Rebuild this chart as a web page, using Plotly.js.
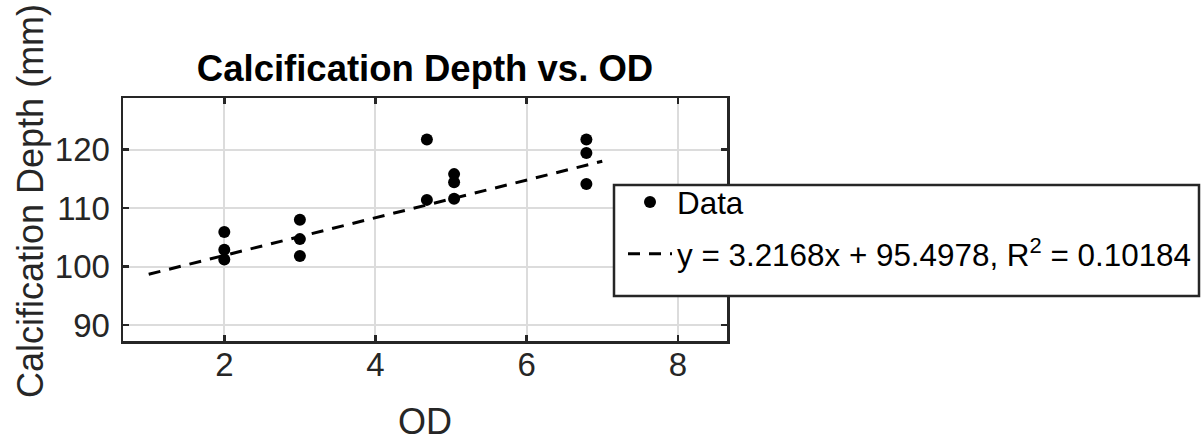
<!DOCTYPE html>
<html>
<head>
<meta charset="utf-8">
<script src="https://cdn.plot.ly/plotly-3.0.1.min.js"></script>
<style>html,body{margin:0;padding:0;background:#fff;}#chart{width:1203px;height:442px;}</style>
</head>
<body>
<div id="chart"></div>
<script>
// Data
const odValues    = [2, 2, 2, 3, 3, 3, 4.68, 4.68, 5.04, 5.04, 5.04, 6.79, 6.79, 6.79];
const depthValues = [105.9, 102.9, 101.2, 108.0, 104.7, 101.8, 121.7, 111.4, 115.8, 114.4, 111.6, 121.7, 119.4, 114.1];
const fitX = [1, 7];
const fitY = [98.7, 118.0];
const fitLabel = 'y = 3.2168x + 95.4978, R<sup>2</sup> = 0.10184';
const xTicks = [2, 4, 6, 8];
const yTicks = [90, 100, 110, 120];

const FONT = 'Liberation Sans, Arial, Helvetica, sans-serif';
const AX = '#262626';

// plot area in pixels
const L = 123, R = 476, T = 98, B = 101, W = 1203, H = 442;
const PW = W - L - R, PH = H - T - B;
const px2x = p => (p - L) / PW;
const px2y = p => (H - B - p) / PH;

const traces = [
  {
    x: odValues, y: depthValues, type: 'scatter', mode: 'markers', name: 'Data',
    legendgroup: 'a',
    marker: {color: '#000', size: 12}
  },
  {
    x: fitX, y: fitY, type: 'scatter', mode: 'lines', name: fitLabel,
    legendgroup: 'b',
    line: {color: '#000', width: 3, dash: '12px,9px'}
  }
];

const axisCommon = {
  showline: true, mirror: 'ticks', linecolor: AX, linewidth: 2.5,
  ticks: 'inside', ticklen: 6, tickwidth: 2.5, tickcolor: AX,
  showgrid: true, gridcolor: '#dcdcdc', gridwidth: 2,
  zeroline: false,
  tickfont: {family: FONT, size: 33, color: AX},
  automargin: false
};

const layout = {
  width: W, height: H,
  margin: {l: L, r: R, t: T, b: B, autoexpand: false},
  paper_bgcolor: '#fff', plot_bgcolor: '#fff',
  showlegend: true,
  title: {
    text: '<b>Calcification Depth vs. OD</b>',
    font: {family: FONT, size: 36.5, color: '#000'},
    x: 0.5, xref: 'paper', xanchor: 'center',
    y: 1 - 68/442, yref: 'container', yanchor: 'middle'
  },
  xaxis: Object.assign({}, axisCommon, {
    range: [0.66, 8.65], tickvals: xTicks, ticktext: xTicks.map(String),
    ticklabelstandoff: -7,
    title: {text: 'OD', font: {family: FONT, size: 36, color: AX}, standoff: 34}
  }),
  yaxis: Object.assign({}, axisCommon, {
    range: [87.3, 128.8], tickvals: yTicks, ticktext: yTicks.map(String),
    ticklabelstandoff: 4,
    title: {text: ''}
  }),
  annotations: [{
    text: 'Calcification Depth (mm)', textangle: -90,
    xref: 'paper', yref: 'paper', x: px2x(30), y: px2y(201),
    xanchor: 'center', yanchor: 'middle', showarrow: false,
    font: {family: FONT, size: 36, color: AX}
  }],
  shapes: [{
    type: 'rect', xref: 'paper', yref: 'paper', layer: 'above',
    x0: px2x(614), x1: px2x(1199), y0: px2y(296), y1: px2y(185),
    fillcolor: '#fff', line: {color: AX, width: 2.5}
  }],
  legend: {
    x: px2x(623), xanchor: 'left', xref: 'paper',
    y: px2y(175), yanchor: 'top', yref: 'paper',
    bgcolor: 'rgba(0,0,0,0)', borderwidth: 0,
    font: {family: FONT, size: 31.4, color: '#000'},
    traceorder: 'grouped', tracegroupgap: 8,
    itemwidth: 44
  }
};

Plotly.newPlot('chart', traces, layout, {displayModeBar: false, staticPlot: true});
</script>
</body>
</html>
